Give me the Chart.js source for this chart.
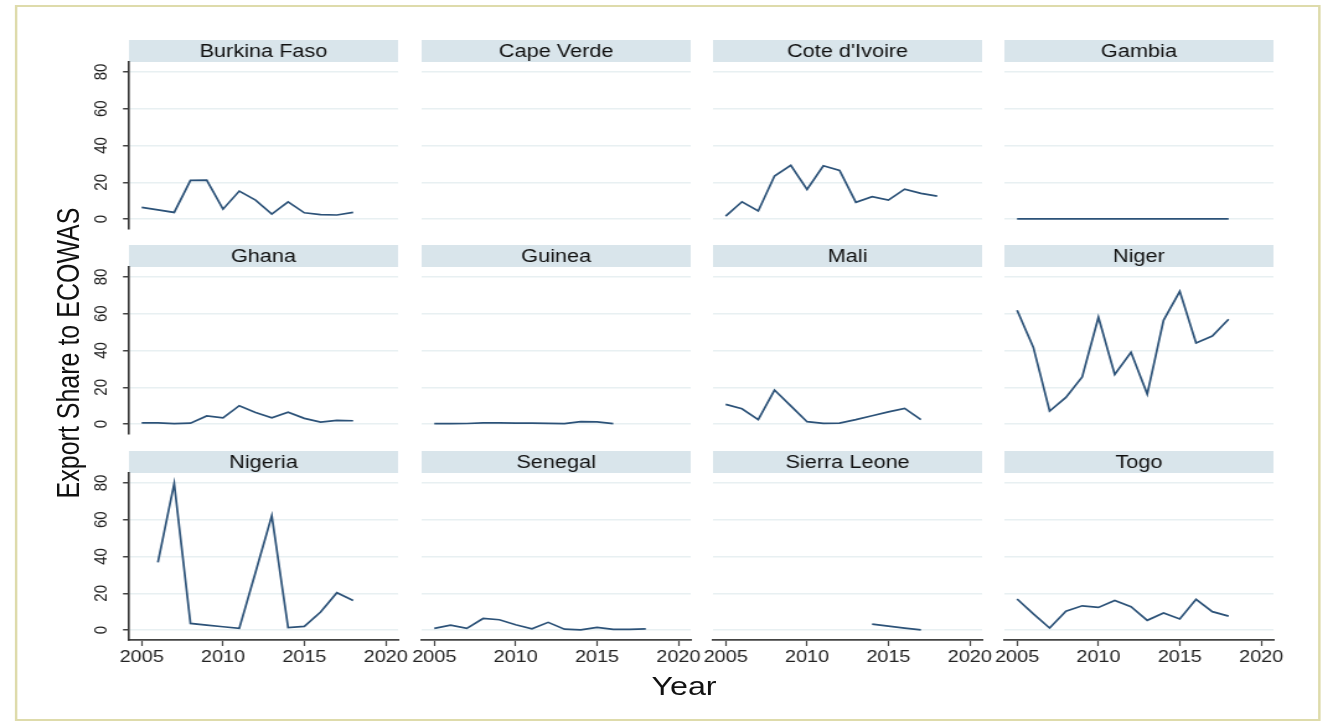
<!DOCTYPE html>
<html>
<head>
<meta charset="utf-8">
<title>Export Share to ECOWAS</title>
<script src="https://cdn.jsdelivr.net/npm/chart.js@4.4.1/dist/chart.umd.min.js"></script>
<style>
  html, body { margin: 0; padding: 0; background: #fff; width: 1327px; height: 721px; overflow: hidden; }
  #sheet { position: absolute; left: 0; top: 0; height: 721px; transform-origin: 0 0; font-family: 'Liberation Sans', Arial, sans-serif; }
  #sheet canvas { position: absolute; }
  .frame { position: absolute; box-sizing: border-box; border: 2px solid #dedbab; }
  .axis-title { position: absolute; white-space: nowrap; color: #111; line-height: 1; }
</style>
</head>
<body>
<div id="sheet">
  <div class="frame" id="frame"></div>
  <div class="axis-title" id="ytitle">Export Share to ECOWAS</div>
  <div class="axis-title" id="xtitle">Year</div>
</div>
<script>
var years = [2005, 2006, 2007, 2008, 2009, 2010, 2011, 2012, 2013, 2014, 2015, 2016, 2017, 2018];
var countries = ['Burkina Faso', 'Cape Verde', "Cote d'Ivoire", 'Gambia',
                 'Ghana', 'Guinea', 'Mali', 'Niger',
                 'Nigeria', 'Senegal', 'Sierra Leone', 'Togo'];

// export share to ECOWAS partners, percent, one value per year (null = no data)
var burkinaFaso = [6.4, 5.0, 3.6, 21.0, 21.2, 5.4, 15.2, 10.3, 2.7, 9.3, 3.4, 2.4, 2.2, 3.6];
var capeVerde   = [null, null, null, null, null, null, null, null, null, null, null, null, null, null];
var coteIvoire  = [1.6, 9.4, 4.4, 23.4, 29.2, 16.1, 29.0, 26.5, 9.1, 12.2, 10.3, 16.3, 14.0, 12.5];
var gambia      = [0.1, 0.1, 0.1, 0.1, 0.1, 0.1, 0.1, 0.1, 0.1, 0.1, 0.1, 0.1, 0.1, 0.1];
var ghana       = [0.7, 0.7, 0.2, 0.5, 4.4, 3.4, 10.0, 6.3, 3.4, 6.5, 3.1, 1.1, 2.0, 1.8];
var guinea      = [0.2, 0.2, 0.3, 0.7, 0.7, 0.5, 0.5, 0.4, 0.2, 1.3, 1.2, 0.2, null, null];
var mali        = [10.7, 8.3, 2.4, 18.5, 9.9, 1.3, 0.4, 0.5, 2.4, 4.5, 6.6, 8.5, 2.4, null];
var niger       = [61.9, 41.7, 7.1, 14.5, 25.6, 58.1, 27.0, 39.0, 16.3, 56.4, 72.2, 44.1, 47.9, 57.0];
var nigeria     = [null, 36.8, 79.8, 3.6, 2.7, 1.8, 0.9, 31.4, 62.2, 1.3, 2.0, 9.8, 20.3, 16.1];
var senegal     = [0.9, 2.7, 0.9, 6.3, 5.6, 2.9, 0.7, 4.2, 0.5, 0.1, 1.5, 0.4, 0.4, 0.7];
var sierraLeone = [null, null, null, null, null, null, null, null, null, 3.2, 2.1, 1.1, 0.1, null];
var togo        = [16.9, 8.8, 1.1, 10.3, 13.2, 12.3, 16.1, 12.7, 5.3, 9.3, 6.0, 16.7, 10.0, 7.6];

var shares = [burkinaFaso, capeVerde, coteIvoire, gambia,
              ghana, guinea, mali, niger,
              nigeria, senegal, sierraLeone, togo];

var yTicks = [0, 20, 40, 60, 80];
var xTicks = [2005, 2010, 2015, 2020];

// the figure is laid out narrow and stretched sideways as a whole
var SX = 1.24;
var COL_LEFT = [129, 421, 713, 1005];
var ROW_TOP = [40, 245, 451];
var PLOT_W = 269, PLOT_H = 167, STRIP_H = 22;
var AXIS_W = 60, AXIS_H = 40, PAD_R = 26;

var FONT = "'Liberation Sans', Arial, sans-serif";
Chart.defaults.font.family = FONT;

var sheet = document.getElementById('sheet');
sheet.style.width = (1327 / SX) + 'px';
sheet.style.transform = 'scaleX(' + SX + ')';

var frame = document.getElementById('frame');
frame.style.left = (15 / SX) + 'px';
frame.style.top = '5px';
frame.style.width = ((1320 - 15) / SX) + 'px';
frame.style.height = '716px';

var ytitle = document.getElementById('ytitle');
ytitle.style.fontSize = '25px';
ytitle.style.left = (68 / SX) + 'px';
ytitle.style.top = '353px';
ytitle.style.transform = 'translate(-50%, -50%) rotate(-90deg)';

var xtitle = document.getElementById('xtitle');
xtitle.style.fontSize = '26px';
xtitle.style.left = (684 / SX) + 'px';
xtitle.style.top = '686px';
xtitle.style.transform = 'translate(-50%, -50%)';

// grey title strip above each panel
var stripPlugin = {
    id: 'strip',
    beforeDraw: function (chart, args, opts) {
        var a = chart.chartArea;
        var ctx = chart.ctx;
        ctx.save();
        ctx.fillStyle = opts.color;
        ctx.fillRect(a.left, a.top - STRIP_H, a.right - a.left, STRIP_H);
        ctx.fillStyle = '#111';
        ctx.font = '17.5px ' + FONT;
        ctx.textAlign = 'center';
        ctx.textBaseline = 'middle';
        ctx.fillText(opts.text, (a.left + a.right) / 2, a.top - STRIP_H / 2 + 1);
        ctx.restore();
    }
};

function fixedTicks(list) {
    return function (scale) {
        scale.ticks = list.map(function (v) { return { value: v }; });
    };
}

function makePanel(i) {
    var col = i % 4;
    var row = Math.floor(i / 4);
    var firstCol = col === 0;
    var lastRow = row === 2;

    var canvas = document.createElement('canvas');
    canvas.width = Math.round(AXIS_W + PLOT_W / SX + PAD_R);
    canvas.height = STRIP_H + PLOT_H + AXIS_H;
    canvas.style.left = (COL_LEFT[col] / SX - AXIS_W) + 'px';
    canvas.style.top = ROW_TOP[row] + 'px';
    sheet.appendChild(canvas);

    var points = years.map(function (yr, k) { return { x: yr, y: shares[i][k] }; });

    return new Chart(canvas, {
        type: 'line',
        data: {
            datasets: [{
                data: points,
                borderColor: '#2c5278',
                borderWidth: 1.7,
                pointRadius: 0,
                tension: 0,
                fill: false
            }]
        },
        plugins: [stripPlugin],
        options: {
            responsive: false,
            animation: false,
            events: [],
            layout: { padding: { top: STRIP_H, right: PAD_R, left: 0, bottom: 0 } },
            plugins: {
                legend: { display: false },
                tooltip: { enabled: false },
                strip: { text: countries[i], color: '#d9e5eb' }
            },
            scales: {
                x: {
                    type: 'linear',
                    min: 2004.22,
                    max: 2020.76,
                    afterBuildTicks: fixedTicks(xTicks),
                    afterFit: function (s) { s.height = AXIS_H; },
                    ticks: {
                        display: lastRow,
                        autoSkip: false,
                        maxRotation: 0,
                        padding: 2,
                        color: '#222',
                        font: { size: 16 },
                        callback: function (v) { return String(v); }
                    },
                    grid: {
                        display: lastRow,
                        drawOnChartArea: false,
                        drawTicks: true,
                        tickLength: 6,
                        tickColor: '#444',
                        tickWidth: 1.2
                    },
                    border: { display: lastRow, color: '#444', width: 1.8 }
                },
                y: {
                    type: 'linear',
                    min: -5.4,
                    max: 85.4,
                    afterBuildTicks: fixedTicks(yTicks),
                    afterFit: function (s) { s.width = AXIS_W; },
                    ticks: {
                        display: firstCol,
                        minRotation: 90,
                        maxRotation: 90,
                        crossAlign: 'center',
                        padding: 9.4,
                        color: '#222',
                        font: { size: 15 },
                        callback: function (v) { return String(v); }
                    },
                    grid: {
                        color: '#e8f0f2',
                        lineWidth: 1.5,
                        drawTicks: firstCol,
                        tickLength: 4.8,
                        tickColor: '#444',
                        tickWidth: 1.5
                    },
                    border: { display: firstCol, color: '#333', width: 1.6 }
                }
            }
        }
    });
}

for (var i = 0; i < countries.length; i++) {
    makePanel(i);
}
</script>
</body>
</html>
